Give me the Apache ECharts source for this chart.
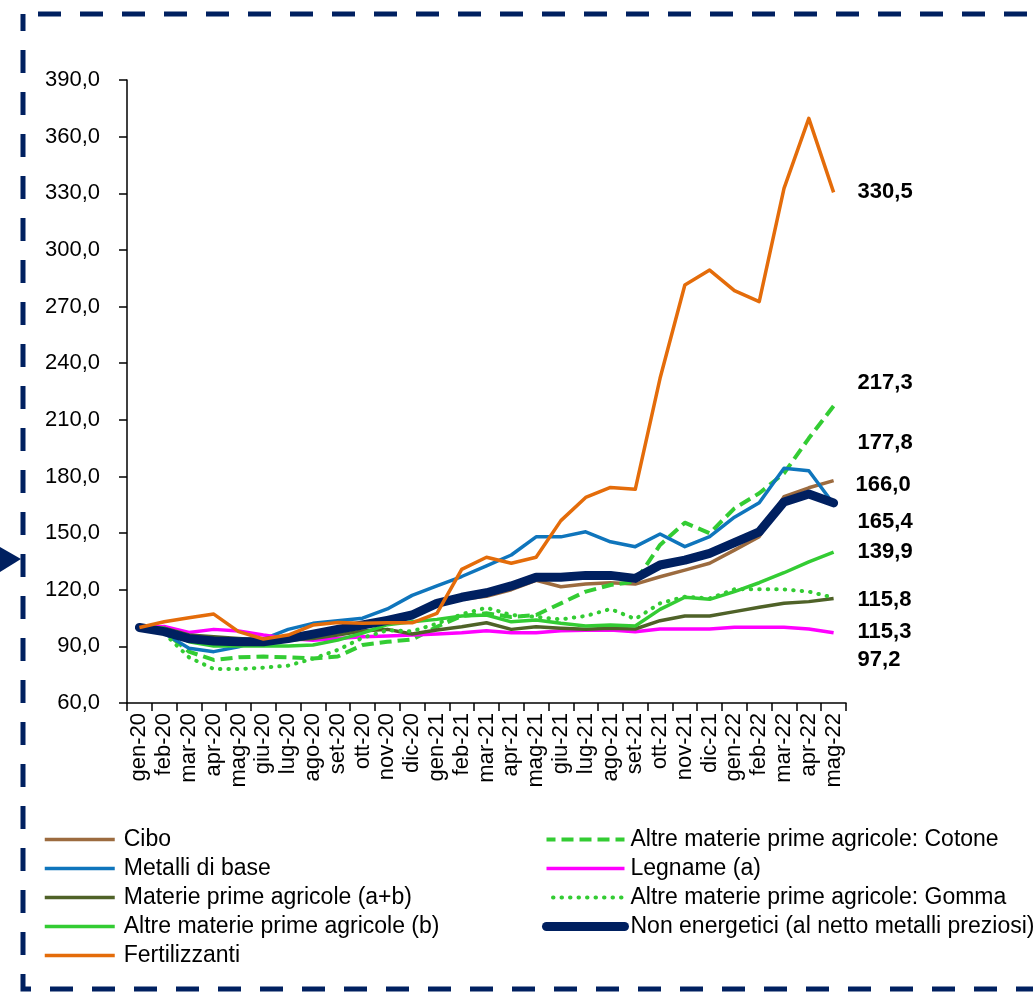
<!DOCTYPE html>
<html>
<head>
<meta charset="utf-8">
<script src="https://cdn.jsdelivr.net/npm/echarts@6/dist/echarts.min.js"></script>
<style>
  html, body { margin: 0; padding: 0; background: #ffffff; }
  #chart { width: 1033px; height: 992px; }
</style>
</head>
<body>
<div id="chart"></div>
<script>
const months = [
  "gen-20", "feb-20", "mar-20", "apr-20", "mag-20", "giu-20", "lug-20", "ago-20", "set-20", "ott-20",
  "nov-20", "dic-20", "gen-21", "feb-21", "mar-21", "apr-21", "mag-21", "giu-21", "lug-21", "ago-21",
  "set-21", "ott-21", "nov-21", "dic-21", "gen-22", "feb-22", "mar-22", "apr-22", "mag-22"
];
const yTicks = { min: 60, max: 390, step: 30 };

const cibo = [100, 98.5, 94.5, 92.5, 92, 92, 93.5, 96, 98.5, 100.5, 103, 106, 111.5, 115, 116.5, 120, 125, 121.6, 123, 123.7, 123, 126.9, 130.4, 134, 141, 148.1, 169.3, 174, 177.8];
const metalli = [100, 96.9, 89, 87.2, 89.8, 93.8, 99, 102.2, 103.6, 104.9, 109.8, 117, 122, 127, 132.6, 138.4, 148, 148, 150.7, 145.4, 142.8, 149.5, 142.8, 148.1, 158.4, 166.1, 184.3, 183, 165.4];
const materie = [100, 99.6, 96, 95.1, 94.2, 93.3, 93.3, 94.2, 96, 98.1, 99, 96.5, 98.7, 100.4, 102.5, 99, 100.4, 99.6, 99, 99.6, 99.2, 103.6, 106.1, 106.1, 108.4, 110.7, 112.8, 113.7, 115.3];
const altreB = [100, 99.6, 92.4, 90.2, 90.2, 90.2, 90.2, 90.7, 93.3, 97, 101.5, 103, 104.3, 106.1, 106.6, 103, 104, 102.2, 100.8, 101.3, 100.8, 109.6, 116, 114.9, 119, 123.7, 129, 134.8, 139.9];
const fertilizzanti = [100, 103, 105.2, 107.1, 97.8, 93.9, 96, 101.3, 102.7, 102.3, 102.5, 102.5, 107.5, 130.8, 137.2, 134, 137.2, 156.6, 168.9, 174.2, 173.2, 232, 281.4, 289.3, 278.4, 272.6, 332.6, 369.7, 330.5];
const cotone = [100, 97.8, 87.2, 82.8, 84.2, 84.6, 84.2, 83.6, 84.6, 90.7, 92.4, 93.7, 100.4, 106.1, 107.5, 105.6, 106.6, 112.8, 119, 122.5, 124.3, 143.7, 155.5, 149.9, 163.1, 171.1, 181.7, 200.2, 217.3];
const legname = [100, 100.5, 97.4, 99, 98.1, 96, 94.2, 93.3, 94.2, 95.1, 95.5, 96, 96.5, 97.2, 98.3, 97.2, 97.2, 98.3, 98.5, 98.7, 97.8, 99.2, 99.2, 99.2, 100.1, 100.1, 100.1, 99.2, 97.2];
const gomma = [100, 96.9, 84.2, 78, 78, 78.7, 79.8, 83.5, 88.1, 94.5, 98.5, 98, 102, 107, 110.5, 106.6, 105.6, 104.3, 106.1, 109.8, 104.5, 112.8, 116.3, 115.4, 120.2, 120.2, 120.2, 119, 115.8];
const nonEnergetici = [100, 97.8, 94.1, 92.8, 92.4, 92.4, 94.1, 96.5, 99, 101.3, 103.8, 106.6, 112.8, 116, 118.4, 122, 126.6, 126.6, 127.6, 127.6, 126, 133.1, 135.7, 139.3, 144.9, 150.7, 166.5, 170.7, 166];

const FONT = "'Liberation Sans', Arial, sans-serif";
const fmt = (v) => v.toFixed(1).replace(".", ",");

function line(name, data, color, width, opts) {
  opts = opts || {};
  return {
    name: name,
    type: "line",
    data: data,
    symbol: "none",
    smooth: false,
    lineStyle: { color: color, width: width, type: opts.type || "solid", cap: opts.cap || "butt", join: "round" },
    itemStyle: { color: color },
    emphasis: { disabled: true },
    endLabel: {
      show: true,
      formatter: (p) => fmt(p.value),
      fontFamily: FONT,
      fontSize: 22,
      fontWeight: "bold",
      color: "#000000",
      distance: 24,
      offset: opts.offset || [0, 0]
    }
  };
}

// legend: line icons only, no symbol
const legendBase = {
  orient: "vertical",
  top: 823,
  itemHeight: 14,
  itemGap: 6,
  itemStyle: { opacity: 0, borderWidth: 0 },
  lineStyle: { width: "inherit" },
  textStyle: { fontSize: 23, color: "#000000", lineHeight: 23 }
};

const chart = echarts.init(document.getElementById("chart"));
chart.setOption({
  animation: false,
  backgroundColor: "#ffffff",
  textStyle: { fontFamily: FONT },
  grid: { left: 127, right: 187, top: 80, bottom: 289, containLabel: false },
  legend: [
    Object.assign({}, legendBase, {
      left: 38,
      itemWidth: 70,
      data: ["Cibo", "Metalli di base", "Materie prime agricole (a+b)", "Altre materie prime agricole (b)", "Fertilizzanti"],
      textStyle: Object.assign({}, legendBase.textStyle, { padding: [0, 0, 0, 4] })
    }),
    Object.assign({}, legendBase, {
      left: 537,
      itemWidth: 78,
      data: ["Altre materie prime agricole: Cotone", "Legname (a)", "Altre materie prime agricole: Gomma", "Non energetici (al netto metalli preziosi)"],
      textStyle: Object.assign({}, legendBase.textStyle, { padding: [0, 0, 0, 1] })
    })
  ],
  xAxis: {
    type: "category",
    data: months,
    boundaryGap: true,
    axisLine: { lineStyle: { color: "#000000", width: 1.5 } },
    axisTick: { show: true, length: 8, interval: 0, lineStyle: { color: "#000000", width: 1.5 } },
    axisLabel: { interval: 0, rotate: 90, fontSize: 22, color: "#000000", margin: 10 },
    splitLine: { show: false }
  },
  yAxis: {
    type: "value",
    min: yTicks.min,
    max: yTicks.max,
    interval: yTicks.step,
    axisLine: { show: true, lineStyle: { color: "#000000", width: 1.5 } },
    axisTick: { show: true, length: 8, lineStyle: { color: "#000000", width: 1.5 } },
    axisLabel: { fontSize: 22, color: "#000000", margin: 27, formatter: (v) => fmt(v) },
    splitLine: { show: false }
  },
  series: [
    line("Cibo", cibo, "#9C6B3F", 3.5, { offset: [0, -38] }),
    line("Altre materie prime agricole: Cotone", cotone, "#33CC33", 4, { type: [12, 6], offset: [0, -23] }),
    line("Metalli di base", metalli, "#0F75BC", 3.5, { offset: [0, 18] }),
    line("Legname (a)", legname, "#FF00FF", 3.5, { offset: [0, 27] }),
    line("Materie prime agricole (a+b)", materie, "#4F6228", 3.5, { offset: [0, 33] }),
    line("Altre materie prime agricole: Gomma", gomma, "#33CC33", 4, { type: [0.5, 8], cap: "round", offset: [0, 2] }),
    line("Altre materie prime agricole (b)", altreB, "#33CC33", 3.5),
    line("Non energetici (al netto metalli preziosi)", nonEnergetici, "#002060", 9, { cap: "round", offset: [-2, -18] }),
    line("Fertilizzanti", fertilizzanti, "#E46C0A", 3.5)
  ],
  graphic: [
    {
      type: "rect",
      silent: true,
      shape: { x: 23, y: 14, width: 1120, height: 975 },
      style: { fill: null, stroke: "#002060", lineWidth: 5, lineDash: [23, 19], lineDashOffset: -15 }
    },
    {
      type: "polygon",
      silent: true,
      shape: { points: [[0, 547], [21, 559], [0, 572]] },
      style: { fill: "#002060" }
    }
  ]
});
</script>
</body>
</html>
